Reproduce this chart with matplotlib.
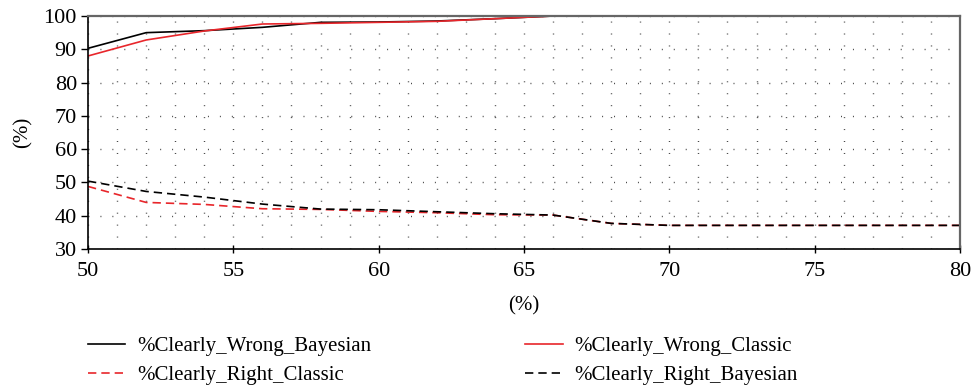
import numpy as np
import matplotlib
matplotlib.use('Agg')
import matplotlib.pyplot as plt
from matplotlib.ticker import MultipleLocator

plt.rcParams['font.family'] = ['Liberation Serif', 'DejaVu Serif']

# data
x = [50, 52, 54, 56, 58, 60, 62, 64, 66, 68, 70, 72, 74, 76, 78, 80]
wrong_bayesian = [90.3, 95.0, 95.6, 96.6, 98.1, 98.2, 98.5, 99.2, 100, 100, 100, 100, 100, 100, 100, 100]
wrong_classic = [88.0, 92.8, 95.5, 97.6, 97.8, 98.1, 98.4, 99.2, 100, 100, 100, 100, 100, 100, 100, 100]
right_classic = [48.8, 44.0, 43.4, 42.1, 41.9, 41.3, 40.9, 40.3, 40.2, 37.7, 37.1, 37.1, 37.1, 37.1, 37.1, 37.1]
right_bayesian = [50.4, 47.3, 45.6, 43.5, 42.0, 41.8, 41.2, 40.6, 40.2, 37.7, 37.1, 37.1, 37.1, 37.1, 37.1, 37.1]

red = '#e8262b'

fig = plt.figure(figsize=(9.76, 3.85), dpi=100)
ax = fig.add_axes([0.0902, 0.3532, 0.8934, 0.6052])

ax.plot(x, wrong_bayesian, color='black', lw=1.2, label='%Clearly_Wrong_Bayesian')
ax.plot(x, right_classic, color=red, lw=1.2, ls=(0, (5, 3)), label='%Clearly_Right_Classic')
ax.plot(x, wrong_classic, color=red, lw=1.2, label='%Clearly_Wrong_Classic')
ax.plot(x, right_bayesian, color='black', lw=1.2, ls=(0, (5, 3)), label='%Clearly_Right_Bayesian')

ax.set_xlim(50, 80)
ax.set_ylim(30, 100)
ax.xaxis.set_major_locator(MultipleLocator(5))
ax.xaxis.set_minor_locator(MultipleLocator(1))
ax.yaxis.set_major_locator(MultipleLocator(10))

# dotted grid: every unit in x, every 10 in y
dots = (0, (0.7, 7.9))
ax.grid(True, which='minor', axis='x', color='#444444', lw=1.0, ls=dots)
ax.grid(True, which='major', axis='x', color='#444444', lw=1.0, ls=dots)
ax.grid(True, which='major', axis='y', color='#444444', lw=1.0, ls=dots)
ax.set_axisbelow(True)

ax.tick_params(axis='x', which='minor', length=0)
ax.tick_params(axis='x', which='major', direction='inout', length=6, width=1, labelsize=16, pad=6)
ax.tick_params(axis='y', which='major', direction='out', length=5, width=1, labelsize=16, pad=3)

for s in ['left', 'bottom']:
    ax.spines[s].set_color('black')
    ax.spines[s].set_linewidth(1.2)
for s in ['top', 'right']:
    ax.spines[s].set_color('#666666')
    ax.spines[s].set_linewidth(1.6)

ax.set_xlabel('(%)', fontsize=15, labelpad=11)
ax.set_ylabel('(%)', fontsize=15, labelpad=8)

fig.legend(loc='upper left', bbox_to_anchor=(0.0902, 0.125), ncol=2, frameon=False,
           fontsize=15, handlelength=1.78, columnspacing=7.4, labelspacing=0.42,
           handletextpad=0.58, borderpad=0, borderaxespad=0)

fig.savefig('out.png', dpi=100)
